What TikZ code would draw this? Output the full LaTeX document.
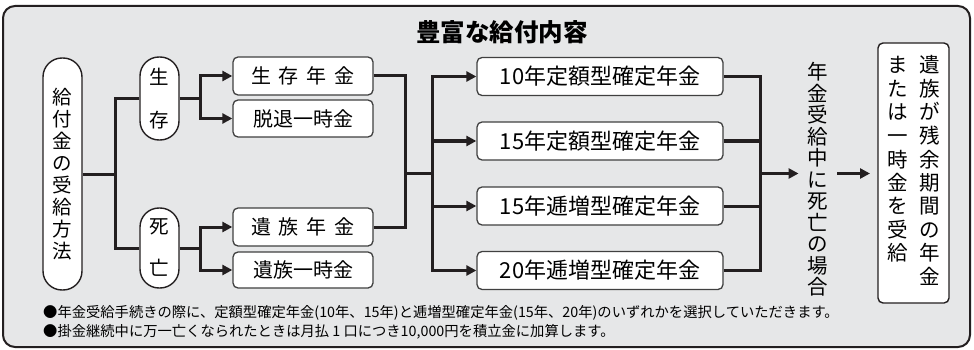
\documentclass[tikz,border=0pt]{standalone}
\usepackage{fontspec}
\setmainfont{Noto Sans CJK JP}
\usetikzlibrary{arrows.meta}

\definecolor{panel}{RGB}{230,231,232}
\definecolor{ink}{RGB}{35,31,32}
\newcommand\kgap{\hspace{.4em}}

\tikzset{
	conn/.style = {line width=3pt, draw=ink},
	tip/.style = {-{Triangle[length=10pt, width=10pt]}},
	pill/.style = {draw=ink, line width=1.4pt, fill=white, rounded corners=19pt, minimum width=39pt, inner sep=0pt, align=center},
	paybox/.style = {draw=black!75, line width=1.3pt, fill=white, rounded corners=5pt, minimum width=140pt, minimum height=38pt, inner sep=0pt, font=\fontsize{20}{22}\selectfont},
	planbox/.style = {paybox, minimum width=246pt, font=\fontsize{22}{24}\selectfont},
	note/.style = {anchor=west, inner sep=0pt, font=\fontsize{14.3}{16}\selectfont}
}

\begin{document}
\begin{tikzpicture}[x=1pt, y=-1pt]
		\useasboundingbox (0,0) rectangle (974,350);
		\draw [fill=panel, draw=ink, line width=2pt, rounded corners=12pt] (3,6) rectangle (970,347);
		\node [font=\fontsize{24.5}{26}\selectfont\bfseries] (title) at (502,32) {豊富な給付内容};
		
		% how the benefit is paid
		\node [pill, minimum height=232pt, font=\fontsize{19.5}{22}\selectfont] (method) at (62.5,174) {給\\付\\金\\の\\受\\給\\方\\法};
		\node [pill, minimum height=83pt, font=\fontsize{19.5}{43}\selectfont] (alive) at (159.5,98.5) {生\\存};
		\node [pill, minimum height=80pt, font=\fontsize{19.5}{42}\selectfont] (death) at (159.5,248) {死\\亡};
		
		\node [paybox] (livepen) at (303,76) {生\kgap 存\kgap 年\kgap 金};
		\node [paybox, minimum height=37pt] (lumpA) at (303,118.5) {脱退一時金};
		\node [paybox] (survpen) at (303,227) {遺\kgap 族\kgap 年\kgap 金};
		\node [paybox, minimum height=36pt] (lumpD) at (303,270) {遺族一時金};
		
		% the four plans
		\node [planbox] (plan1) at (600,76.5) {10年定額型確定年金};
		\node [planbox] (plan2) at (600,141) {15年定額型確定年金};
		\node [planbox] (plan3) at (600,206) {15年逓増型確定年金};
		\node [planbox] (plan4) at (600,270.5) {20年逓増型確定年金};
		
		\node [inner xsep=9pt, inner ysep=0pt, align=center, font=\fontsize{20.5}{21.5}\selectfont] (onDeath) at (818,179.5) {年\\金\\受\\給\\中\\に\\死\\亡\\の\\場\\合};
		\node [draw=ink, line width=1.4pt, fill=white, rounded corners=5pt, minimum width=71pt, minimum height=260pt, inner sep=0pt, font=\fontsize{20.5}{21.2}\selectfont] (result) at (913.5,173) {\begin{tabular}{@{}c@{\hspace{12pt}}c@{}}ま&遺\\た&族\\は&が\\一&残\\時&余\\金&期\\を&間\\受&の\\給&年\\&金\end{tabular}};
		
		% connectors
		\coordinate (split1) at (115,174);
		\coordinate (forkA) at (200,98.5);
		\coordinate (forkD) at (200,248);
		\coordinate (merge1) at (405,173);
		\coordinate (split2) at (432,173);
		\coordinate (merge2) at (760,173.5);
		\coordinate (inbox) at (870,173.5);
		
		\draw [conn] (method.east) -- (split1);
		\draw [conn] (alive.west) -| (split1) |- (death.west);
		
		\draw [conn] (alive.east) -- (forkA);
		\draw [conn, tip] (forkA) |- (livepen.west);
		\draw [conn, tip] (forkA) |- (lumpA.west);
		\draw [conn] (death.east) -- (forkD);
		\draw [conn, tip] (forkD) |- (survpen.west);
		\draw [conn, tip] (forkD) |- (lumpD.west);
		
		\draw [conn] (livepen.east) -| (merge1);
		\draw [conn] (survpen.east) -| (merge1);
		\draw [conn] (merge1) -- (split2);
		\draw [conn, tip] (split2) |- (plan1.west);
		\draw [conn, tip] (split2) |- (plan2.west);
		\draw [conn, tip] (split2) |- (plan3.west);
		\draw [conn, tip] (split2) |- (plan4.west);
		
		\draw [conn] (plan1.east) -| (merge2);
		\draw [conn] (plan2.east) -| (merge2);
		\draw [conn] (plan3.east) -| (merge2);
		\draw [conn] (plan4.east) -| (merge2);
		\draw [conn, tip] (merge2) -- (merge2 -| onDeath.west);
		\draw [conn, tip] (onDeath.east |- merge2) -- (inbox);
		
		\node [note] (note1) at (43,313) {●年金受給手続きの際に、定額型確定年金(10年、15年)と逓増型確定年金(15年、20年)のいずれかを選択していただきます。};
		\node [note] (note2) at (43,332) {●掛金継続中に万一亡くなられたときは月払 1 口につき10,000円を積立金に加算します。};
		
\end{tikzpicture}
\end{document}
